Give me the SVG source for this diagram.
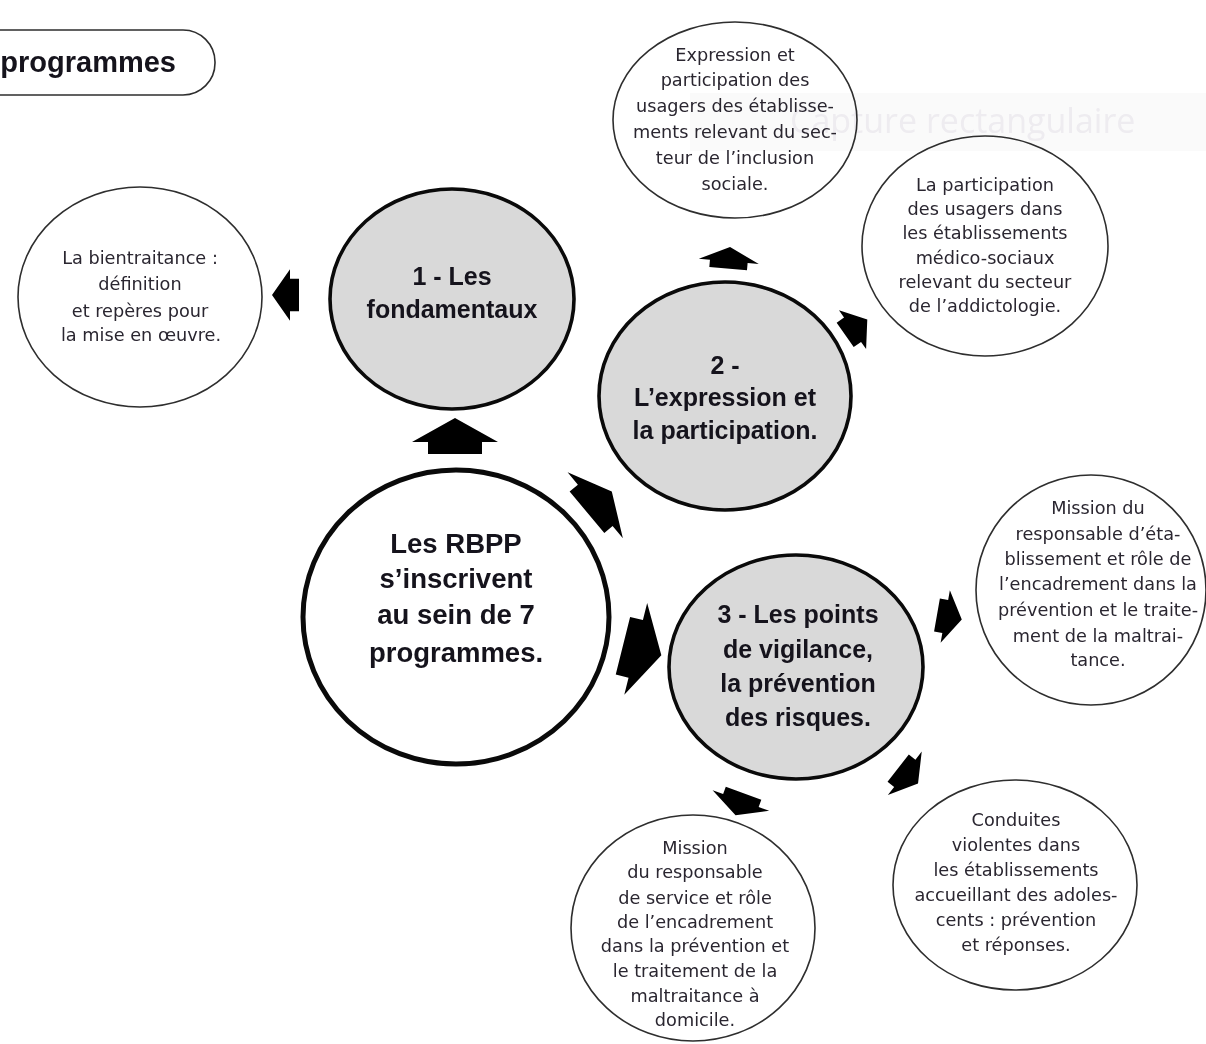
<svg xmlns="http://www.w3.org/2000/svg" width="1206" height="1044" viewBox="0 0 1206 1044">
  <style>
    .bg { fill: #ffffff; }
    .leaf { fill: #ffffff; stroke: #2e2e2e; stroke-width: 1.6; }
    .main { fill: #d9d9d9; stroke: #0a0a0a; stroke-width: 3.6; }
    .hub { fill: #ffffff; stroke: #0a0a0a; stroke-width: 5; }
    .pill { fill: #ffffff; stroke: #2e2e2e; stroke-width: 1.6; }
    .small { font-family: "DejaVu Sans", "Liberation Sans", sans-serif; font-size: 17.7px; fill: #2a2630; text-anchor: middle; }
    .bold { font-family: "Liberation Sans", Arial, sans-serif; font-weight: bold; font-size: 25px; fill: #15131c; text-anchor: middle; }
    .hubtext { font-family: "Liberation Sans", Arial, sans-serif; font-weight: bold; font-size: 27.5px; fill: #15131c; text-anchor: middle; }
    .title { font-family: "Liberation Sans", Arial, sans-serif; font-weight: bold; font-size: 29px; fill: #15131c; }
    .arrow { fill: #000000; }
    .veil { fill: #fafafa; mix-blend-mode: multiply; }
    .ghost { font-family: "Open Sans", "Liberation Sans", sans-serif; font-size: 34px; fill: #f3f1f5; mix-blend-mode: multiply; }
  </style>
  <defs>
    <!-- block arrow pointing up, centred on the origin -->
    <path id="blockArrow" d="M0,-20 L43,4 L27,4 L27,16 L-27,16 L-27,4 L-43,4 Z"/>
  </defs>

  <rect class="bg" x="0" y="0" width="1206" height="1044"/>

  <!-- title pill -->
  <g id="title">
    <rect class="pill" x="-60" y="30" width="275" height="65" rx="32" ry="32"/>
    <text class="title" x="176" y="72" text-anchor="end">programmes</text>
  </g>

  <!-- connectors -->
  <g id="connectors">
    <use href="#blockArrow" class="arrow" transform="translate(287,295) rotate(-90) scale(0.6,0.75)"/>
    <use href="#blockArrow" class="arrow" transform="translate(455,438)"/>
    <use href="#blockArrow" class="arrow" transform="translate(598,503) rotate(50) scale(1,0.9)"/>
    <use href="#blockArrow" class="arrow" transform="translate(640,650) rotate(104) scale(1.1,1.1)"/>
    <use href="#blockArrow" class="arrow" transform="translate(729,259) rotate(5) scale(0.7,0.6)"/>
    <use href="#blockArrow" class="arrow" transform="translate(855,328) rotate(55) scale(0.55,0.75)"/>
    <use href="#blockArrow" class="arrow" transform="translate(948,617) rotate(100) scale(0.62,0.7)"/>
    <use href="#blockArrow" class="arrow" transform="translate(907,775) rotate(128) scale(0.64,0.7)"/>
    <use href="#blockArrow" class="arrow" transform="translate(740,803) rotate(200) scale(0.7,0.65)"/>
  </g>

  <!-- leaf: bientraitance -->
  <g id="node-bientraitance">
    <ellipse class="leaf" cx="140" cy="297" rx="122" ry="110"/>
    <text class="small" x="140" y="264">La bientraitance :</text>
    <text class="small" x="140" y="290">définition</text>
    <text class="small" x="140" y="317">et repères pour</text>
    <text class="small" x="141" y="341">la mise en œuvre.</text>
  </g>

  <!-- programme 1 -->
  <g id="node-fondamentaux">
    <ellipse class="main" cx="452" cy="299" rx="122" ry="110"/>
    <text class="bold" x="452" y="285">1 - Les</text>
    <text class="bold" x="452" y="318">fondamentaux</text>
  </g>

  <!-- programme 2 -->
  <g id="node-expression">
    <ellipse class="main" cx="725" cy="396" rx="126" ry="114"/>
    <text class="bold" x="725" y="374">2 -</text>
    <text class="bold" x="725" y="406">L’expression et</text>
    <text class="bold" x="725" y="439">la participation.</text>
  </g>

  <!-- programme 3 -->
  <g id="node-vigilance">
    <ellipse class="main" cx="796" cy="667" rx="127" ry="112"/>
    <text class="bold" x="798" y="623">3 - Les points</text>
    <text class="bold" x="798" y="658">de vigilance,</text>
    <text class="bold" x="798" y="692">la prévention</text>
    <text class="bold" x="798" y="726">des risques.</text>
  </g>

  <!-- hub -->
  <g id="node-rbpp">
    <ellipse class="hub" cx="456" cy="617" rx="153" ry="147"/>
    <text class="hubtext" x="456" y="553">Les RBPP</text>
    <text class="hubtext" x="456" y="588">s’inscrivent</text>
    <text class="hubtext" x="456" y="624">au sein de 7</text>
    <text class="hubtext" x="456" y="662">programmes.</text>
  </g>

  <!-- leaf: inclusion sociale -->
  <g id="node-inclusion">
    <ellipse class="leaf" cx="735" cy="120" rx="122" ry="98"/>
    <text class="small" x="735" y="61">Expression et</text>
    <text class="small" x="735" y="86">participation des</text>
    <text class="small" x="735" y="112">usagers des établisse-</text>
    <text class="small" x="735" y="138">ments relevant du sec-</text>
    <text class="small" x="735" y="164">teur de l’inclusion</text>
    <text class="small" x="735" y="190">sociale.</text>
  </g>

  <!-- leaf: addictologie -->
  <g id="node-addictologie">
    <ellipse class="leaf" cx="985" cy="246" rx="123" ry="110"/>
    <text class="small" x="985" y="191">La participation</text>
    <text class="small" x="985" y="215">des usagers dans</text>
    <text class="small" x="985" y="239">les établissements</text>
    <text class="small" x="985" y="264">médico-sociaux</text>
    <text class="small" x="985" y="288">relevant du secteur</text>
    <text class="small" x="985" y="312">de l’addictologie.</text>
  </g>

  <!-- leaf: responsable d'établissement -->
  <g id="node-etablissement">
    <ellipse class="leaf" cx="1091" cy="590" rx="115" ry="115"/>
    <text class="small" x="1098" y="514">Mission du</text>
    <text class="small" x="1098" y="540">responsable d’éta-</text>
    <text class="small" x="1098" y="565">blissement et rôle de</text>
    <text class="small" x="1098" y="590">l’encadrement dans la</text>
    <text class="small" x="1098" y="616">prévention et le traite-</text>
    <text class="small" x="1098" y="642">ment de la maltrai-</text>
    <text class="small" x="1098" y="666">tance.</text>
  </g>

  <!-- leaf: responsable de service -->
  <g id="node-domicile">
    <ellipse class="leaf" cx="693" cy="928" rx="122" ry="113"/>
    <text class="small" x="695" y="854">Mission</text>
    <text class="small" x="695" y="878">du responsable</text>
    <text class="small" x="695" y="904">de service et rôle</text>
    <text class="small" x="695" y="928">de l’encadrement</text>
    <text class="small" x="695" y="952">dans la prévention et</text>
    <text class="small" x="695" y="977">le traitement de la</text>
    <text class="small" x="695" y="1002">maltraitance à</text>
    <text class="small" x="695" y="1026">domicile.</text>
  </g>

  <!-- leaf: conduites violentes -->
  <g id="node-adolescents">
    <ellipse class="leaf" cx="1015" cy="885" rx="122" ry="105"/>
    <text class="small" x="1016" y="826">Conduites</text>
    <text class="small" x="1016" y="851">violentes dans</text>
    <text class="small" x="1016" y="876">les établissements</text>
    <text class="small" x="1016" y="901">accueillant des adoles-</text>
    <text class="small" x="1016" y="926">cents : prévention</text>
    <text class="small" x="1016" y="951">et réponses.</text>
  </g>

  <!-- faint capture-tool label, multiplied so dark strokes stay dark -->
  <g id="overlay">
    <rect class="veil" x="690" y="93" width="516" height="58"/>
    <text class="ghost" x="790" y="133">Capture rectangulaire</text>
  </g>
</svg>
